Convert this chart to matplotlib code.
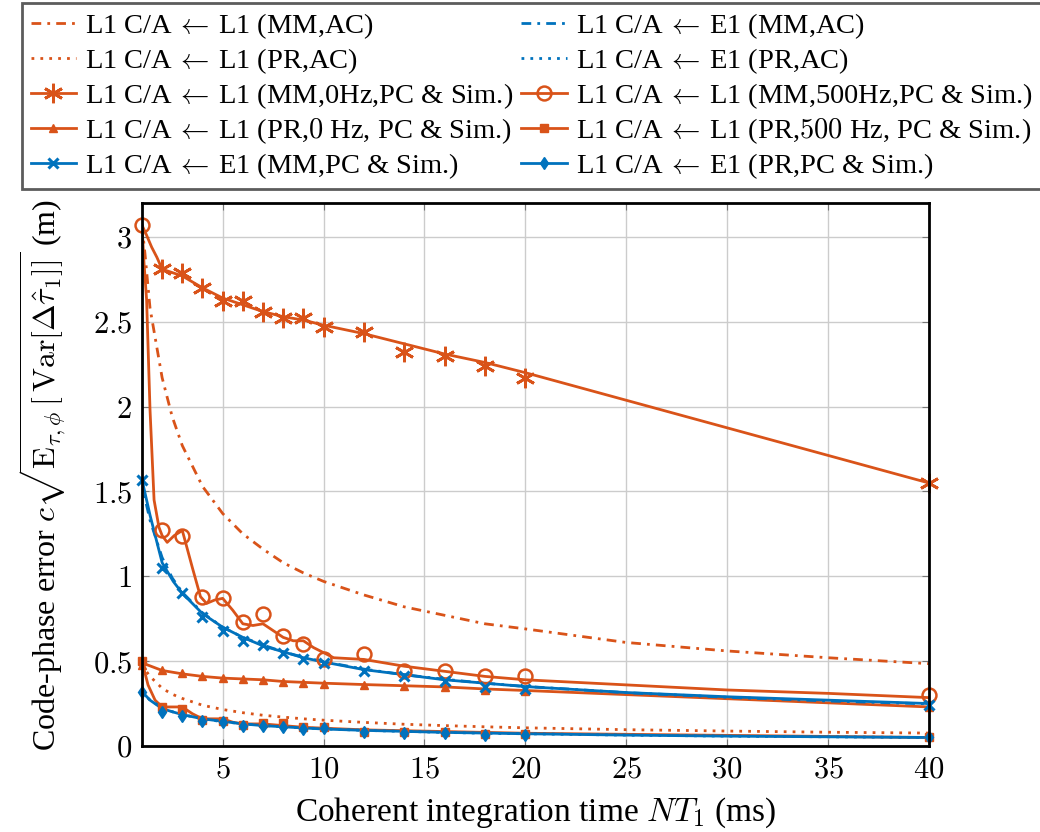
import numpy as np
import matplotlib
matplotlib.use("Agg")
import matplotlib.pyplot as plt
from matplotlib.lines import Line2D
from matplotlib.ticker import FuncFormatter

plt.rcParams['font.family'] = ['Liberation Serif', 'DejaVu Serif']
plt.rcParams['mathtext.fontset'] = 'cm'

ORANGE = '#D95319'
BLUE = '#0072BD'

# analytic curves (AC)
x_ac = [1, 1.15, 1.4, 2, 2.5, 3, 4, 5, 6, 7, 8, 9, 10, 12, 14, 16, 18, 20, 25, 30, 35, 40]
l1_mm_ac = [3.07, 2.90, 2.58, 2.17, 1.94, 1.77, 1.53, 1.37, 1.25, 1.16, 1.08, 1.02, 0.97,
            0.89, 0.82, 0.77, 0.72, 0.69, 0.61, 0.56, 0.52, 0.485]
l1_pr_ac = [0.48, 0.45, 0.41, 0.34, 0.305, 0.28, 0.24, 0.215, 0.196, 0.181, 0.17, 0.16, 0.152,
            0.139, 0.128, 0.12, 0.113, 0.107, 0.096, 0.088, 0.081, 0.076]
e1_mm_ac = [1.57, 1.46, 1.33, 1.11, 0.99, 0.905, 0.785, 0.70, 0.64, 0.595, 0.555, 0.523, 0.497,
            0.453, 0.42, 0.393, 0.37, 0.351, 0.314, 0.287, 0.265, 0.248]
e1_pr_ac = [0.32, 0.30, 0.27, 0.226, 0.202, 0.185, 0.16, 0.143, 0.131, 0.121, 0.113, 0.107, 0.101,
            0.092, 0.086, 0.08, 0.075, 0.072, 0.064, 0.058, 0.054, 0.05]

# PC curves
x_mm0 = [1, 1.23, 1.48, 1.74, 2, 3, 4, 5, 6, 7, 8, 9, 10, 12, 14, 16, 18, 20, 40]
mm0_pc = [3.07, 3.01, 2.94, 2.88, 2.81, 2.77, 2.70, 2.64, 2.60, 2.56, 2.53, 2.51, 2.48,
          2.43, 2.37, 2.31, 2.26, 2.20, 1.55]

x_mm500 = [1, 1.1, 1.23, 1.4, 1.6, 1.84, 2, 2.25, 2.6, 3, 3.5, 3.9, 4.2, 4.6, 5, 5.5, 6, 6.5,
           7, 7.5, 8, 8.5, 9, 9.5, 10, 10.5, 12, 14, 16, 18, 20, 25, 30, 35, 40]
mm500_pc = [3.07, 2.85, 2.63, 1.98, 1.45, 1.29, 1.24, 1.20, 1.24, 1.27, 1.05, 0.88, 0.84, 0.86,
            0.87, 0.80, 0.72, 0.71, 0.72, 0.68, 0.64, 0.62, 0.62, 0.58, 0.55, 0.52, 0.51, 0.47,
            0.44, 0.41, 0.39, 0.36, 0.33, 0.31, 0.285]

x_pr0 = [1, 2, 3, 4, 5, 6, 7, 8, 9, 10, 12, 14, 16, 18, 20, 40]
pr0_pc = [0.49, 0.445, 0.425, 0.41, 0.40, 0.395, 0.39, 0.38, 0.375, 0.37, 0.362, 0.355,
          0.348, 0.336, 0.327, 0.23]

x_pr500 = [1, 1.3, 1.65, 2, 2.5, 3, 3.5, 4, 5, 5.5, 6, 7, 8, 9, 10, 12, 14, 16, 20, 40]
pr500_pc = [0.50, 0.36, 0.27, 0.23, 0.23, 0.23, 0.19, 0.16, 0.16, 0.14, 0.13, 0.13, 0.12,
            0.11, 0.105, 0.095, 0.09, 0.085, 0.075, 0.05]

x_e1 = [1, 1.4, 2, 2.55, 3, 4, 5, 6, 7, 8, 9, 10, 12, 14, 16, 18, 20, 25, 30, 35, 40]
e1_mm_pc = [1.57, 1.36, 1.08, 0.97, 0.90, 0.78, 0.70, 0.64, 0.59, 0.555, 0.52, 0.495, 0.45,
            0.42, 0.39, 0.37, 0.35, 0.315, 0.29, 0.27, 0.25]
e1_pr_pc = [0.32, 0.27, 0.22, 0.20, 0.185, 0.16, 0.145, 0.13, 0.12, 0.113, 0.106, 0.10, 0.092,
            0.086, 0.08, 0.076, 0.072, 0.064, 0.058, 0.054, 0.05]

# simulation points
x_sim = [1, 2, 3, 4, 5, 6, 7, 8, 9, 10, 12, 14, 16, 18, 20, 40]
x_sim0 = [2, 3, 4, 5, 6, 7, 8, 9, 10, 12, 14, 16, 18, 20, 40]
mm0_sim = [2.81, 2.79, 2.70, 2.62, 2.62, 2.56, 2.52, 2.52, 2.47, 2.44, 2.32, 2.30, 2.24, 2.17, 1.55]
mm500_sim = [3.07, 1.27, 1.24, 0.88, 0.87, 0.73, 0.78, 0.65, 0.60, 0.51, 0.54, 0.44, 0.44, 0.41, 0.41, 0.30]
pr0_sim = [0.48, 0.45, 0.43, 0.41, 0.40, 0.395, 0.39, 0.375, 0.37, 0.365, 0.36, 0.355, 0.35, 0.33, 0.325, 0.23]
pr500_sim = [0.50, 0.23, 0.22, 0.155, 0.15, 0.125, 0.137, 0.137, 0.114, 0.114, 0.085, 0.085, 0.08, 0.07, 0.07, 0.05]
e1_mm_sim = [1.57, 1.05, 0.90, 0.76, 0.68, 0.62, 0.595, 0.55, 0.51, 0.49, 0.44, 0.41, 0.38, 0.35, 0.335, 0.24]
e1_pr_sim = [0.32, 0.20, 0.176, 0.147, 0.143, 0.118, 0.118, 0.112, 0.10, 0.106, 0.085, 0.078, 0.076, 0.065, 0.067, 0.05]

fig = plt.figure(figsize=(10.4, 8.32), dpi=100)
ax = fig.add_axes([0.1365, 0.1034, 0.7567, 0.6526])

LW = 2.0
dashdot = (0, (3.5, 2.2, 1, 2.2))
dotted = (0, (1, 2.2))
STAR = (6, 2, 0)

ax.plot(x_ac, l1_mm_ac, color=ORANGE, lw=LW, ls=dashdot)
ax.plot(x_ac, l1_pr_ac, color=ORANGE, lw=LW, ls=dotted)

ax.plot(x_mm0, mm0_pc, color=ORANGE, lw=LW)
ax.plot(x_mm500, mm500_pc, color=ORANGE, lw=LW)
ax.plot(x_pr0, pr0_pc, color=ORANGE, lw=LW)
ax.plot(x_pr500, pr500_pc, color=ORANGE, lw=LW)
ax.plot(x_e1, e1_mm_pc, color=BLUE, lw=LW)
ax.plot(x_e1, e1_pr_pc, color=BLUE, lw=LW)

ax.plot(x_ac, e1_mm_ac, color=BLUE, lw=LW, ls=dashdot)
ax.plot(x_ac, e1_pr_ac, color=BLUE, lw=LW, ls=dotted)

mk = dict(ls='none', zorder=5, clip_on=False)
ax.plot(x_sim0, mm0_sim, marker=STAR, ms=14, mec=ORANGE, mew=2, **mk)
ax.plot(x_sim, mm500_sim, marker='o', ms=10, mfc='none', mec=ORANGE, mew=1.8, **mk)
ax.plot(x_sim, pr0_sim, marker='^', ms=5.5, color=ORANGE, **mk)
ax.plot(x_sim, pr500_sim, marker='s', ms=5.5, color=ORANGE, **mk)
ax.plot(x_sim, e1_mm_sim, marker='x', ms=7, mew=2.2, color=BLUE, **mk)
ax.plot(x_sim, e1_pr_sim, marker='d', ms=6.5, color=BLUE, **mk)

ax.set_xlim(1, 40)
ax.set_ylim(0, 3.2)
ax.set_xticks([5, 10, 15, 20, 25, 30, 35, 40])
ax.set_yticks([0, 0.5, 1, 1.5, 2, 2.5, 3])
fmt = FuncFormatter(lambda v, p: '${:g}$'.format(v))
ax.xaxis.set_major_formatter(fmt)
ax.yaxis.set_major_formatter(fmt)
ax.tick_params(labelsize=22, direction='in', length=5, color='#777777', top=True, right=True, pad=7)
ax.grid(True, color='#cccccc', lw=1)
for s in ax.spines.values():
    s.set_linewidth(2)
    s.set_zorder(6)

ax.set_xlabel('Coherent integration time $NT_1$ (ms)', fontsize=24, labelpad=8)
ax.set_ylabel(r'Code-phase error $c\sqrt{\mathrm{E}_{\tau,\phi}\,\left[\,\mathrm{Var}[\Delta\hat{\tau}_1]\right]}$ (m)',
              fontsize=23, labelpad=18)

arrow = r'$\,\leftarrow\,$'
def h(ls='-', marker=None, color=ORANGE, **kw):
    return Line2D([], [], color=color, lw=LW, ls=ls, marker=marker, **kw)

col1 = [
    (h(dashdot), f'L1 C/A{arrow}L1 (MM,AC)'),
    (h(dotted), f'L1 C/A{arrow}L1 (PR,AC)'),
    (h(marker=STAR, ms=14, mew=2), f'L1 C/A{arrow}L1 (MM,0Hz,PC & Sim.)'),
    (h(marker='^', ms=5.5), f'L1 C/A{arrow}L1 (PR,$0$ Hz, PC & Sim.)'),
    (h(marker='x', ms=7, mew=2.2, color=BLUE), f'L1 C/A{arrow}E1 (MM,PC & Sim.)'),
]
col2 = [
    (h(dashdot, color=BLUE), f'L1 C/A{arrow}E1 (MM,AC)'),
    (h(dotted, color=BLUE), f'L1 C/A{arrow}E1 (PR,AC)'),
    (h(marker='o', ms=10, mfc='none', mew=1.8), f'L1 C/A{arrow}L1 (MM,500Hz,PC & Sim.)'),
    (h(marker='s', ms=5.5), f'L1 C/A{arrow}L1 (PR,$500$ Hz, PC & Sim.)'),
    (h(marker='d', ms=6.5, color=BLUE), f'L1 C/A{arrow}E1 (PR,PC & Sim.)'),
]
handles = [a for a, b in col1 + col2]
labels = [b for a, b in col1 + col2]
leg = fig.legend(handles, labels, ncol=2, loc='upper left', bbox_to_anchor=(22 / 1040, 1 - 3 / 832),
                 fontsize=20.5, frameon=True, fancybox=False, edgecolor='#333333',
                 handlelength=1.6, handletextpad=0.3, columnspacing=0.3, labelspacing=0.18,
                 borderpad=0.3, borderaxespad=0)
leg.get_frame().set_linewidth(2)

fig.savefig('out.png', dpi=100)
